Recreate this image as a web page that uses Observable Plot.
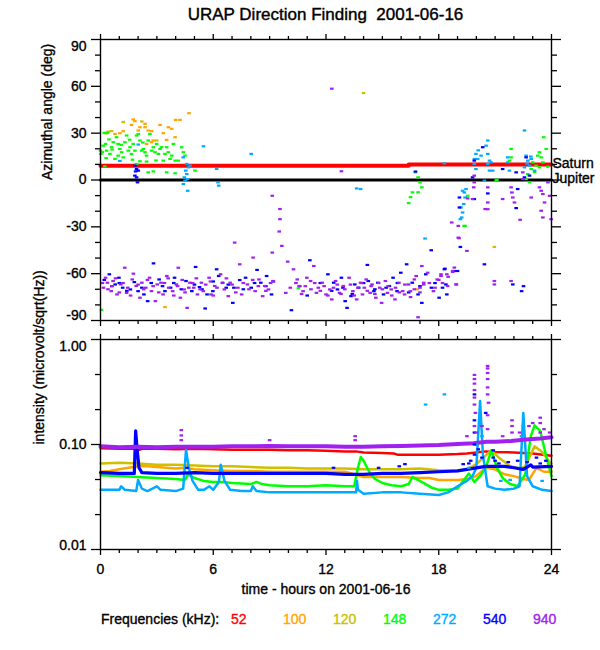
<!DOCTYPE html>
<html><head><meta charset="utf-8">
<script src="https://cdn.jsdelivr.net/npm/d3@7"></script>
<script src="https://cdn.jsdelivr.net/npm/@observablehq/plot@0.6"></script>
<style>
body{margin:0;background:#fff;font-family:"Liberation Sans",Arial,Helvetica,sans-serif;}
#wrap{position:relative;width:600px;height:650px;background:#fff;overflow:hidden;}
#title{position:absolute;left:100px;width:451px;top:5px;height:20px;line-height:20px;text-align:center;font-size:17px;white-space:pre;color:#000;-webkit-text-stroke:0.4px #000;}
#top{position:absolute;left:0;top:30px;}
#bottom{position:absolute;left:0;top:330px;}
#legend{position:absolute;left:0;top:611px;width:600px;height:18px;font-size:14px;line-height:16px;white-space:pre;}
#legend span{position:absolute;top:0;-webkit-text-stroke:0.35px currentColor;}
svg text{stroke:currentColor;stroke-width:0.35px;}
</style></head>
<body><div id="wrap">
<div id="title">URAP Direction Finding  2001-06-16</div>
<div id="top"></div><div id="bottom"></div><div id="legend"></div>
</div>
<script>
// ---------- labels and ticks ----------
const titleText = "URAP Direction Finding  2001-06-16";
const angleTitle = "Azimuthal angle (deg)";
const intensityTitle = "intensity (microvolt/sqrt(Hz))";
const timeTitle = "time - hours on 2001-06-16";
const legendTitle = "Frequencies (kHz):";
const freqs = ["52", "100", "120", "148", "272", "540", "940"];
const freqColors = ["#ff0000", "#ffa500", "#ccc000", "#00ff00", "#00aaff", "#0000ff", "#a020f0"];
const hourMajor = [0, 6, 12, 18, 24];
const hourMinor = [1,2,3,4,5,7,8,9,10,11,13,14,15,16,17,19,20,21,22,23];
const angleMajor = [-90, -60, -30, 0, 30, 60, 90];
const angleMinor = [-80,-70,-50,-40,-20,-10,10,20,40,50,70,80];
const angleInner = [-60, -30, 0, 30, 60];
const intMajor = [0.01, 0.1, 1];
const intMajorLabels = ["0.01", "0.10", "1.00"];
const intMinor = [0.0215, 0.0464, 0.215, 0.464];

// Saturn and Jupiter reference directions
const saturnHours = [0, 16.4, 16.4, 24];
const saturnDeg = [9.2, 9.2, 9.9, 9.9];
const jupiterHours = [0, 24];
const jupiterDeg = [0, 0];

// ---------- direction-finding points [hour, deg] ----------
const df100 = [[1.74,38.8],[1.83,37.7],[1.65,35.3],[2.37,36.0],[2.37,33.8],[2.10,33.8],[2.01,31.7],[2.54,31.7],[2.72,31.3],[3.17,35.3],[3.61,33.8],[3.79,32.8],[3.97,27.4],[3.52,25.7],[3.34,30.0],[4.23,38.5],[4.0,38.5],[4.71,42.8],[2.81,25.3],[2.72,24.2],[2.45,23.1],[1.21,31.3],[0.77,29.5],[1.03,30.0],[0.41,31.0],[3.43,-81.4],[16.85,-70.0]];
const df120 = [[1.21,37.2],[0.59,31.3],[0.3,29.8],[2.99,25.3],[14.0,55.7],[20.96,-42.9],[2.2,37.5]];
const df148 = [[0.20,30.2],[0.37,30.2],[0.27,23.1],[0.14,22.0],[0.09,17.8],[0.32,18.8],[0.50,16.7],[0.59,21.0],[0.68,24.2],[0.85,27.4],[0.94,23.1],[1.03,19.9],[1.12,17.8],[1.21,14.5],[1.30,24.2],[1.39,28.5],[1.48,18.8],[1.57,21.0],[1.65,16.7],[1.74,23.1],[1.83,18.8],[1.92,28.5],[2.01,29.5],[2.10,25.3],[2.19,18.8],[2.28,19.9],[2.37,17.8],[2.45,15.6],[2.54,25.3],[2.63,29.5],[2.72,18.8],[2.81,21.0],[2.90,17.8],[2.99,23.1],[3.08,16.7],[3.17,19.9],[3.25,21.0],[3.34,12.4],[3.43,16.7],[3.52,21.0],[3.61,17.8],[3.70,13.5],[3.79,15.6],[3.88,23.1],[3.97,12.4],[4.14,12.4],[4.32,21.0],[4.41,17.8],[4.50,15.6],[2.54,4.9],[2.81,5.5],[3.52,4.9],[3.97,4.3],[5.03,6.0],[2.45,11.8],[2.10,12.0],[0.23,8.8],[0.00,18.8],[0.02,16.7],[0.77,13.5],[0.94,15.6],[1.92,10.3],[0.45,26.0],[0.62,19.5],[1.10,22.5],[1.55,25.8],[2.25,24.0],[0.3,14.0],[1.7,13.0],[2.95,12.5],[0.05,-83.2],[10.53,-69.4],[16.76,4.9],[16.9,1.7],[17.0,-1.5],[17.1,-4.7],[16.9,-7.9],[16.6,-7.9],[16.5,-11.0],[16.4,-14.8],[19.35,-29.4],[21.1,0.2],[23.59,27.4],[23.72,19.9],[23.36,17.8],[23.27,15.6],[23.45,14.5],[23.0,11.3],[23.18,9.2],[22.92,7.0],[22.74,3.8],[22.65,0.6],[22.83,-1.5],[23.36,8.1],[23.54,11.3],[21.85,19.9],[21.85,14.5],[21.76,12.4],[21.05,-0.4],[19.54,-10.1],[19.4,-29.4],[23.1,5.0],[23.8,8.5]];
const df272 = [[4.59,10.3],[4.68,8.1],[4.54,6.0],[4.59,3.8],[4.46,1.7],[4.50,-0.4],[4.64,0.6],[4.41,-2.6],[4.64,-6.9],[4.77,9.2],[5.48,21.6],[2.01,22.7],[1.03,12.2],[6.18,7.1],[6.25,-1.5],[6.29,-3.6],[8.02,16.7],[13.63,-5.4],[13.84,-5.8],[17.27,-37.5],[4.4,14.5],[19.27,-6.9],[19.36,-8.0],[19.4,-11.2],[19.33,-15.4],[19.18,-17.6],[19.27,-20.8],[19.22,-24.0],[19.15,-25.1],[19.45,-5.8],[19.98,16.7],[20.07,13.5],[19.89,10.3],[19.98,7.0],[20.25,15.6],[20.61,25.3],[20.52,22.0],[20.61,16.7],[20.7,12.4],[20.78,11.3],[20.7,6.0],[20.61,10.3],[20.87,6.0],[20.43,-0.4],[21.67,14.5],[21.67,11.3],[21.76,6.0],[22.56,31.7],[22.65,15.6],[22.74,12.4],[22.83,9.2],[22.56,8.1],[22.92,13.5],[23.1,6.0],[18.3,10.7],[20.1,19.0],[19.9,13.5],[22.7,10.5],[22.9,15.0]];
const df540 = [[1.83,9.2],[1.92,7.0],[1.87,5.5],[1.83,2.8],[1.92,1.7],[1.97,-1.5],[2.01,6.0],[16.76,5.4],[17.6,-45.0],[20.34,21.0],[19.89,12.4],[19.8,1.7],[19.89,-12.2],[19.1,-11.2],[19.1,-17.6],[19.15,-42.9],[20.61,-8.6],[20.43,-54.0],[21.4,7.0],[22.12,4.9],[22.2,-5.8],[22.12,-18.0],[22.65,14.5],[22.83,2.8],[22.56,1.7],[21.94,-66.9],[18.3,-57.2],[18.38,-66.9],[18.2,-69.0],[18.83,-58.3],[19.0,-58.3],[22.51,-68.0],[22.41,-71.2],
[0.47,-60.4],[0.78,-66.9],[0.98,-62.6],[1.18,-69.0],[1.59,-70.1],[1.8,-65.4],[2.0,-71.2],[2.31,-73.3],[2.51,-77.6],[2.82,-53.4],[3.12,-63.7],[3.43,-71.2],[3.73,-69.0],[3.94,-62.6],[4.55,-64.7],[4.86,-71.2],[5.06,-55.7],[5.27,-68.6],[5.57,-82.3],[5.67,-73.3],[5.98,-71.2],[6.18,-57.2],[6.29,-61.5],[6.49,-65.8],[6.69,-69.0],[7.04,-78.7],[7.1,-69.0],[7.41,-64.1],[7.72,-62.6],[8.02,-69.0],[8.33,-57.6],[8.53,-65.8],[8.84,-61.5],[9.1,-73.3],[10.16,-83.4],[11.14,-51.4],[12.1,-60.4],[12.41,-65.8],[12.61,-70.1],[12.82,-62.6],[13.02,-77.6],[13.12,-81.9],[13.33,-74.4],[13.53,-66.9],[13.74,-69.0],[14.2,-54.4],[14.25,-64.7],[14.55,-71.2],[14.76,-65.8],[15.06,-73.3],[15.37,-67.9],[15.57,-62.6],[15.78,-71.2],[15.98,-59.4],[16.29,-54.0],[16.59,-65.8],[16.9,-73.3],[17.1,-78.7],[17.31,-60.4],[17.61,-69.0],[18.02,-75.4],[18.33,-56.8],[18.43,-73.3],
[0.2,-64],[0.6,-68],[1.0,-66],[1.4,-71],[2.2,-69],[2.7,-66],[3.3,-68],[3.9,-66],[4.3,-70],[5.0,-67],[5.4,-70],[6.0,-65],[6.8,-67],[7.6,-70],[8.2,-66],[8.8,-68],[9.2,-65],[10.6,-68],[11.0,-74],[11.7,-66],[12.3,-71],[12.9,-69],[13.4,-73],[14.0,-66],[14.6,-70],[15.2,-69],[15.8,-66],[16.4,-72],[17.0,-68],[17.8,-66]];
const df940 = [[0.16,-69.0],[0.27,-62.6],[0.37,-65.8],[0.57,-71.2],[0.67,-64.7],[0.88,-73.3],[1.08,-66.9],[1.29,-56.2],[1.39,-72.3],[1.69,-63.7],[1.9,-67.9],[2.1,-75.4],[2.2,-65.8],[2.41,-69.0],[2.61,-62.6],[2.71,-71.2],[2.92,-77.6],[3.02,-66.9],[3.22,-65.8],[3.33,-73.3],[3.53,-61.5],[3.63,-69.0],[3.84,-71.2],[4.04,-66.9],[4.14,-56.2],[4.25,-75.4],[4.45,-70.1],[4.61,-81.9],[4.76,-65.8],[4.96,-69.0],[5.16,-73.3],[5.37,-65.8],[5.47,-71.2],[5.78,-62.6],[5.88,-73.3],[6.08,-67.9],[6.39,-60.4],[6.59,-70.1],[6.8,-74.4],[6.9,-65.8],[7.14,-40.1],[7.31,-69.0],[7.41,-54.0],[7.51,-73.3],[7.82,-66.9],[8.12,-49.7],[8.23,-71.2],[8.43,-63.7],[8.63,-74.4],[8.74,-67.9],[8.94,-70.1],[9.14,-10.1],[9.14,-46.5],[9.55,-18.6],[9.55,-25.1],[9.51,-33.0],[9.65,-42.2],[9.18,-64.7],
[9.86,-72.3],[9.96,-52.3],[10.27,-57.2],[10.47,-63.7],[10.57,-67.9],[10.78,-71.2],[10.98,-62.6],[11.18,-64.7],[11.35,-55.1],[11.49,-72.3],[11.59,-69.0],[11.8,-65.8],[12.0,-73.3],[12.2,-70.1],[12.31,-76.5],[12.51,-64.7],[12.72,-72.3],[12.92,-67.9],[13.23,-62.6],[13.43,-71.2],[13.63,-76.5],[13.84,-65.8],[13.94,-73.3],[14.04,-69.0],[14.14,-63.7],[14.35,-72.3],[14.45,-66.9],[14.65,-75.4],[14.86,-69.0],[14.96,-78.7],[15.16,-64.7],[15.27,-72.3],[15.47,-70.1],[15.67,-76.5],[15.88,-65.8],[16.08,-71.2],[16.18,-73.3],[16.39,-66.9],[16.49,-71.2],[16.7,-63.7],[16.8,-61.5],[16.9,-87.9],[17.0,-69.0],[17.1,-55.1],[17.2,-65.8],[17.41,-59.4],[17.72,-71.2],[17.92,-63.7],[18.12,-60.4],[18.43,-60.4],[18.74,-58.9],[18.94,-66.9],
[0.1,-66],[0.4,-70],[0.6,-68],[0.8,-63],[1.0,-72],[1.2,-66],[1.45,-69],[1.6,-74],[1.75,-60],[2.0,-67],[2.3,-70],[2.5,-64],[2.8,-68],[3.1,-72],[3.4,-66],[3.6,-63],[3.9,-74],[4.1,-68],[4.35,-64],[4.5,-72],[4.7,-69],[4.9,-66],[5.1,-63],[5.3,-70],[5.6,-67],[5.85,-65],[6.0,-74],[6.2,-69],[6.5,-66],[6.7,-63],[7.0,-67],[7.2,-72],[7.6,-66],[7.9,-70],[8.1,-64],[8.4,-68],[8.8,-71],[9.05,-66],
[10.1,-69],[10.4,-66],[10.7,-73],[10.9,-68],[11.2,-70],[11.4,-66],[11.7,-71],[11.9,-68],[12.1,-74],[12.4,-69],[12.6,-67],[12.8,-73],[13.0,-70],[13.3,-67],[13.5,-74],[13.7,-69],[13.9,-66],[14.2,-71],[14.4,-68],[14.6,-73],[14.8,-66],[15.0,-70],[15.3,-68],[15.5,-74],[15.7,-69],[15.9,-72],[16.2,-67],[16.5,-75],[16.7,-70],[17.0,-72],[17.2,-67],[17.5,-66],[17.8,-69],[18.0,-64],[18.2,-66],[18.5,-62],
[19.89,2.8],[19.89,-1.5],[19.86,-4.7],[19.8,-12.2],[20.61,-4.7],[20.61,-14.4],[20.61,-18.7],[21.4,-12.2],[21.85,-4.7],[21.89,-8.0],[21.94,-11.2],[22.03,-14.4],[22.33,-25.5],[22.47,4.9],[22.47,0.6],[22.92,-11.2],[23.36,-4.7],[23.45,-6.9],[23.54,-9.0],[23.63,-14.4],[23.45,-19.7],[23.54,-24.0],[23.81,-1.5],[23.9,-10.1],[23.98,-25.1],[19.04,-29.4],[19.04,-36.9],[19.5,-45.4],[18.83,-56.1],[18.74,-58.3],[20.96,-64.7],[20.96,-66.9],[21.85,-64.7],[18.12,-61.5],[18.47,-67.9],[18.92,-66.9],[18.69,-27.2],[19.54,-11.8],[12.31,58.5],[12.82,5.6],[20.47,-18.6],[19.08,-37.3]];

// ---------- intensity series [hour, microvolt/sqrt(Hz)] ----------
const s52 = [[0,0.092],[1,0.091],[1.9,0.091],[2,0.088],[2.2,0.091],[3,0.091],[4,0.090],[5,0.091],[6,0.090],[7,0.089],[8,0.089],[9,0.089],[10,0.088],[11,0.088],[12,0.087],[13,0.086],[13.6,0.086],[14,0.084],[15,0.083],[15.6,0.082],[15.8,0.080],[17,0.080],[18,0.080],[19,0.081],[19.5,0.082],[20.5,0.086],[21,0.085],[22,0.084],[23,0.082],[24,0.078]];
const s100 = [[0,0.055],[0.5,0.056],[1,0.058],[1.5,0.060],[2,0.062],[2.5,0.062],[3,0.061],[4,0.059],[4.5,0.060],[5,0.058],[6,0.057],[7,0.056],[8,0.056],[9,0.055],[10,0.055],[11,0.055],[12,0.055],[13,0.055],[13.5,0.052],[14,0.049],[15,0.049],[16,0.049],[17,0.048],[17.5,0.048],[18,0.046],[19,0.046],[19.5,0.047],[20,0.050],[20.5,0.060],[21,0.058],[21.5,0.052],[22,0.050],[22.5,0.047],[22.8,0.046],[23.2,0.060],[23.6,0.055],[24,0.055]];
const s120 = [[0,0.066],[1,0.067],[2,0.066],[3,0.064],[4,0.064],[5,0.063],[6,0.062],[7,0.062],[8,0.061],[9,0.060],[10,0.060],[11,0.059],[12,0.059],[13,0.059],[14,0.058],[15,0.058],[16,0.058],[17,0.059],[18,0.057],[19,0.056],[19.5,0.058],[20,0.065],[20.8,0.088],[21.2,0.075],[21.8,0.062],[22.3,0.059],[22.6,0.062],[23.1,0.096],[23.5,0.085],[23.9,0.068],[24,0.066]];
const s148 = [[0,0.051],[1,0.050],[2,0.049],[3,0.048],[4,0.047],[4.5,0.046],[4.65,0.052],[5,0.048],[5.5,0.045],[6,0.044],[6.5,0.044],[7,0.043],[8,0.042],[8.3,0.044],[8.6,0.042],[9,0.041],[10,0.040],[11,0.040],[12,0.041],[13,0.040],[13.5,0.040],[13.7,0.060],[13.85,0.076],[14.0,0.070],[14.3,0.055],[14.6,0.047],[15,0.043],[15.5,0.041],[16,0.040],[16.4,0.042],[16.6,0.049],[16.9,0.046],[17.3,0.042],[17.6,0.039],[18,0.037],[18.5,0.037],[19,0.038],[19.3,0.045],[19.6,0.053],[19.9,0.044],[20.2,0.050],[20.5,0.060],[20.8,0.088],[21.1,0.060],[21.4,0.048],[21.8,0.042],[22.2,0.040],[22.6,0.052],[22.9,0.120],[23.1,0.152],[23.4,0.135],[23.7,0.080],[24,0.050]];
const s272 = [[0,0.037],[1.0,0.037],[1.1,0.040],[1.3,0.037],[1.9,0.036],[2.0,0.046],[2.2,0.038],[2.5,0.036],[3.0,0.040],[3.2,0.037],[4,0.036],[4.4,0.038],[4.55,0.089],[4.7,0.060],[4.9,0.045],[5.2,0.037],[5.5,0.037],[5.8,0.040],[6.0,0.037],[6.3,0.044],[6.4,0.064],[6.6,0.045],[6.9,0.037],[7.5,0.036],[8.0,0.036],[8.1,0.040],[8.3,0.036],[9,0.035],[10,0.035],[11,0.035],[12,0.035],[13,0.035],[13.6,0.035],[13.65,0.045],[13.7,0.037],[14,0.034],[15,0.035],[16,0.035],[17,0.034],[18,0.033],[18.5,0.035],[19,0.040],[19.5,0.045],[19.8,0.050],[20.0,0.060],[20.2,0.260],[20.35,0.080],[20.6,0.040],[21,0.038],[21.5,0.037],[22,0.038],[22.3,0.040],[22.5,0.200],[22.7,0.050],[23,0.040],[23.5,0.037],[24,0.036]];
const s540 = [[0,0.054],[1,0.053],[1.8,0.053],[1.87,0.135],[1.95,0.090],[2.05,0.060],[2.2,0.054],[3,0.053],[4,0.053],[5,0.054],[6,0.053],[7,0.053],[8,0.053],[9,0.053],[10,0.053],[11,0.053],[12,0.053],[13,0.052],[14,0.052],[15,0.053],[16,0.053],[17,0.054],[18,0.055],[19,0.056],[19.5,0.058],[20.5,0.062],[21.5,0.062],[22,0.060],[22.5,0.058],[22.9,0.064],[23,0.061],[24,0.062]];
const s940 = [[0,0.096],[1,0.094],[2,0.095],[3,0.094],[4,0.095],[5,0.095],[6,0.095],[7,0.096],[8,0.096],[9,0.097],[10,0.096],[11,0.096],[12,0.096],[13,0.095],[14,0.095],[15,0.096],[16,0.097],[17,0.098],[18,0.099],[19,0.101],[19.85,0.103],[20.55,0.106],[21,0.106],[21.85,0.108],[22.5,0.111],[23,0.113],[23.4,0.114],[24,0.117]];
// scattered samples off the main traces (spikes are sparse vertical runs of samples)
const x272 = [[17.3,0.24],[18.3,0.30],[20.2,0.15],[20.3,0.12],[22.5,0.15],[22.4,0.12],[20.0,0.10],[19.6,0.06],[21.3,0.045],[21.8,0.046],[23.5,0.045]];
const x540 = [[19.3,0.065],[19.7,0.07],[20.1,0.09],[20.3,0.075],[21.0,0.07],[21.7,0.068],[22.2,0.07],[23.2,0.075],[23.7,0.07],[16.2,0.065],[15.9,0.062],[14.8,0.06],[12.4,0.06],[4.6,0.06],[20.5,0.2],[19.9,0.3],[19.9,0.08],[19.9,0.1],[19.9,0.13],[19.9,0.17],[20.9,0.075],[20.9,0.088],[19.6,0.066],[21.2,0.066],[22.7,0.068],[23.4,0.066]];
const x940 = [[19.5,0.12],[20.0,0.13],[20.3,0.15],[21.4,0.12],[22.3,0.13],[22.8,0.15],[23.0,0.16],[23.6,0.14],[23.9,0.13],[20.65,0.25],[19.95,0.2],
[4.3,0.11],[4.3,0.122],[4.3,0.137],[13.55,0.11],[13.55,0.12],[9.0,0.11],
[19.9,0.15],[19.9,0.24],[19.9,0.28],[19.9,0.33],[19.9,0.38],[19.9,0.42],[19.9,0.46],
[20.6,0.14],[20.6,0.19],[20.6,0.3],[20.6,0.35],[20.6,0.42],[20.6,0.48],[20.6,0.53],[20.6,0.56],
[21.9,0.13],[21.9,0.15],[21.9,0.17],[23.4,0.13],[23.4,0.16],[23.4,0.18]];

// ---------- drawing ----------
const FONT = "'Liberation Sans', Arial, Helvetica, sans-serif";
const style = {fontFamily: FONT, fontSize: "14px", background: "white", color: "black", overflow: "visible"};
const blank = () => "";
const H = d => d[0], V = d => d[1];
const dash = {draw(ctx) { ctx.rect(-1.8, -1.1, 3.6, 2.2); }};

function frameTicks(yMajor, yMinor) {
  return [
    Plot.axisX(hourMajor, {anchor: "top", tickSize: 6, tickFormat: blank, strokeWidth: 1.3, label: null}),
    Plot.axisX(hourMinor, {anchor: "top", tickSize: 4, tickFormat: blank, strokeWidth: 1.3, label: null}),
    Plot.axisX(hourMinor, {anchor: "bottom", tickSize: 4, tickFormat: blank, strokeWidth: 1.3, label: null}),
    Plot.axisY(yMajor, {anchor: "left", tickSize: 9, tickFormat: blank, strokeWidth: 1.3, label: null}),
    Plot.axisY(yMinor, {anchor: "left", tickSize: 5, tickFormat: blank, strokeWidth: 1.3, label: null}),
    Plot.axisY(yMajor, {anchor: "right", tickSize: 9, tickFormat: blank, strokeWidth: 1.3, label: null}),
    Plot.axisY(yMinor, {anchor: "right", tickSize: 5, tickFormat: blank, strokeWidth: 1.3, label: null}),
    Plot.frame({strokeWidth: 1.4})
  ];
}

const dfSets = [df100, df120, df148, df272, df540, df940];
const dfColors = [freqColors[1], freqColors[2], freqColors[3], freqColors[4], freqColors[5], freqColors[6]];

const topPlot = Plot.plot({
  width: 600, height: 300,
  marginLeft: 100, marginRight: 49, marginTop: 9, marginBottom: 10,
  x: {domain: [0, 24]},
  y: {domain: [-90, 90]},
  style,
  marks: [
    Plot.line(saturnHours.map((h, i) => [h, saturnDeg[i]]), {x: H, y: V, stroke: freqColors[0], strokeWidth: 4}),
    Plot.line(jupiterHours.map((h, i) => [h, jupiterDeg[i]]), {x: H, y: V, stroke: "black", strokeWidth: 3}),
    ...dfSets.map((set, i) => Plot.dot(set, {x: H, y: V, fill: dfColors[i], symbol: dash})),
    Plot.axisX(hourMajor, {anchor: "bottom", tickSize: 6, tickFormat: blank, strokeWidth: 1.3, label: null}),
    ...frameTicks(angleMajor, angleMinor),
    Plot.text(angleInner, {x: () => 0, y: d => d, text: d => String(d), textAnchor: "end", dx: -14}),
    Plot.text([90], {x: () => 0, y: d => d, text: d => String(d), textAnchor: "end", dx: -14, dy: 7}),
    Plot.text([-90], {x: () => 0, y: d => d, text: d => String(d), textAnchor: "end", dx: -14, dy: -5}),
    Plot.text([angleTitle], {frameAnchor: "left", rotate: -90, dx: -53}),
    Plot.text(["Saturn"], {x: () => 24, y: () => 10.5, textAnchor: "start", dx: 1}),
    Plot.text(["Jupiter"], {x: () => 24, y: () => 0.8, textAnchor: "start", dx: 1})
  ]
});
document.getElementById("top").appendChild(topPlot);

const series = [s52, s100, s120, s148, s272, s540, s940];
const widths = [2.5, 2.5, 2.5, 2.5, 2.5, 3.2, 4];
const bottomPlot = Plot.plot({
  width: 600, height: 275,
  marginLeft: 100, marginRight: 49, marginTop: 9, marginBottom: 56,
  x: {domain: [0, 24]},
  y: {type: "log", domain: [0.01, 1]},
  style,
  marks: [
    ...series.map((s, i) => Plot.line(s, {x: H, y: V, stroke: freqColors[i], strokeWidth: widths[i]})),
    Plot.dot(x272, {x: H, y: V, fill: freqColors[4], symbol: dash}),
    Plot.dot(x540, {x: H, y: V, fill: freqColors[5], symbol: dash}),
    Plot.dot(x940, {x: H, y: V, fill: freqColors[6], symbol: dash}),
    Plot.axisX(hourMajor, {anchor: "bottom", tickSize: 6, tickPadding: 9, tickFormat: d => String(d), strokeWidth: 1.3, label: null, fontSize: 14}),
    ...frameTicks(intMajor, intMinor),
    Plot.text([1], {x: () => 0, y: d => d, text: () => intMajorLabels[2], textAnchor: "end", dx: -14, dy: 7}),
    Plot.text([0.1], {x: () => 0, y: d => d, text: () => intMajorLabels[1], textAnchor: "end", dx: -14}),
    Plot.text([0.01], {x: () => 0, y: d => d, text: () => intMajorLabels[0], textAnchor: "end", dx: -14, dy: -4}),
    Plot.text([intensityTitle], {frameAnchor: "left", rotate: -90, dx: -61}),
    Plot.text([timeTitle], {frameAnchor: "bottom", dy: 44})
  ]
});
document.getElementById("bottom").appendChild(bottomPlot);

// legend
const leg = document.getElementById("legend");
const t = document.createElement("span");
t.textContent = legendTitle; t.style.left = "101px"; t.style.color = "#000";
leg.appendChild(t);
freqs.forEach((f, i) => {
  const s = document.createElement("span");
  s.textContent = f;
  s.style.left = (231 + 50 * i + (i > 0 ? 2 : 0)) + "px";
  s.style.color = freqColors[i];
  leg.appendChild(s);
});
document.getElementById("title").textContent = titleText;
</script>
</body></html>
